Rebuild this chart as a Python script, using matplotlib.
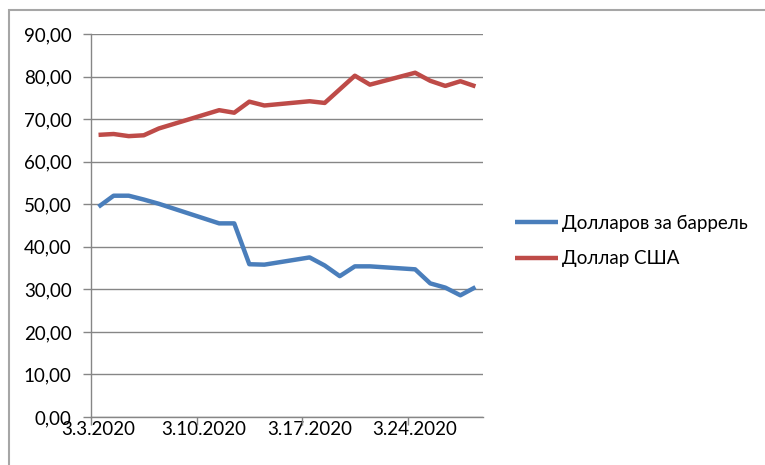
import matplotlib
matplotlib.use("Agg")
import matplotlib.pyplot as plt
import pandas as pd
from matplotlib.patches import Rectangle

plt.rcParams['font.family'] = ['Lato', 'DejaVu Sans']

# data
dates = ['2020-03-03', '2020-03-04', '2020-03-05', '2020-03-06', '2020-03-07',
         '2020-03-11', '2020-03-12', '2020-03-13', '2020-03-14', '2020-03-17',
         '2020-03-18', '2020-03-19', '2020-03-20', '2020-03-21', '2020-03-24',
         '2020-03-25', '2020-03-26', '2020-03-27', '2020-03-28']
brent = [49.4, 52.0, 52.0, 51.1, 50.1, 45.5, 45.5, 35.9, 35.8, 37.5,
         35.6, 33.1, 35.4, 35.4, 34.7, 31.4, 30.4, 28.6, 30.5]
usd = [66.3, 66.5, 66.0, 66.2, 67.8, 72.1, 71.5, 74.1, 73.2, 74.2,
       73.8, 77.0, 80.2, 78.1, 80.9, 79.0, 77.8, 78.9, 77.7]
labels = ['Долларов за баррель', 'Доллар США']
tick_dates = ['2020-03-03', '2020-03-10', '2020-03-17', '2020-03-24']
tick_labels = ['3.3.2020', '3.10.2020', '3.17.2020', '3.24.2020']

x = pd.to_datetime(dates)
half = pd.Timedelta(hours=12)

fig = plt.figure(figsize=(7.65, 4.65), dpi=100)
ax = fig.add_axes([91 / 765, 1 - 417 / 465, (483 - 91) / 765, (417 - 34) / 465])

grid_c = '#868686'
ax.plot(x, brent, color='#4A7EBB', lw=3.2, label=labels[0], solid_capstyle='butt')
ax.plot(x, usd, color='#BE4B48', lw=3.2, label=labels[1], solid_capstyle='butt')

ax.set_ylim(0, 90)
ax.set_yticks(range(0, 91, 10))
ax.set_yticklabels([f'{v:.2f}'.replace('.', ',') for v in range(0, 91, 10)])
ax.yaxis.grid(True, color=grid_c, lw=1)
ax.set_axisbelow(True)

ticks = pd.to_datetime(tick_dates)
ax.set_xlim(x[0] - half, x[-1] + half)
ax.set_xticks(ticks)
ax.set_xticklabels(tick_labels)
ax.set_xticks([t - half for t in ticks], minor=True)
ax.tick_params(axis='x', which='major', length=0, pad=3, labelsize=13.5, colors='black')
ax.tick_params(axis='x', which='minor', length=6, width=1, color=grid_c)
ax.tick_params(axis='y', length=6, width=1, color=grid_c, pad=8, labelsize=13.5)

for s in ['top', 'right']:
    ax.spines[s].set_visible(False)
for s in ['left', 'bottom']:
    ax.spines[s].set_color(grid_c)
    ax.spines[s].set_linewidth(1)

fig.legend(loc='center left', bbox_to_anchor=(498 / 765, 1 - 241 / 465),
           frameon=False, fontsize=13.5, handlelength=2.3, handletextpad=0.2,
           labelspacing=1.0)

fig.patches.append(Rectangle((9 / 765, -0.1), 1.2, 1.1 - 10 / 465,
                             transform=fig.transFigure, fill=False,
                             edgecolor='#A6A6A6', lw=1.5))

fig.savefig('out.png', dpi=100)
